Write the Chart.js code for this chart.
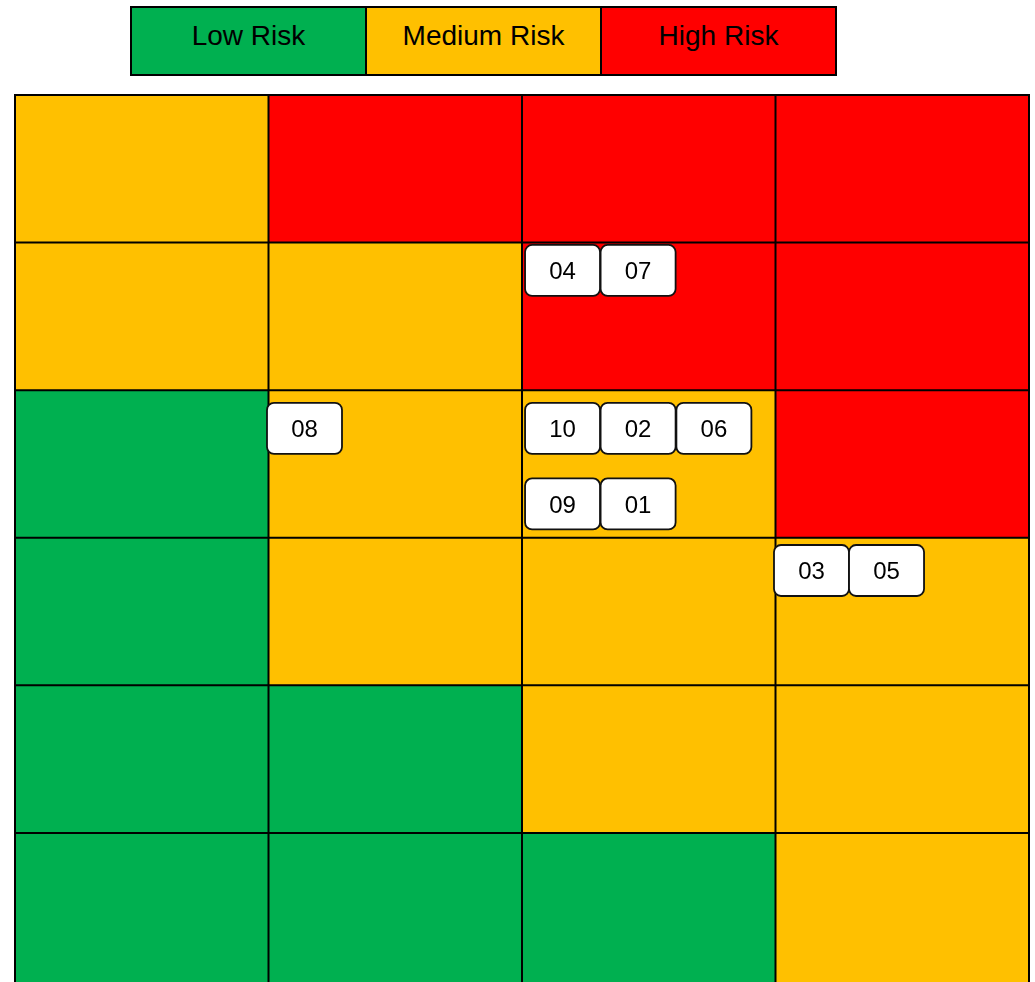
<!DOCTYPE html>
<html>
<head>
<meta charset="utf-8">
<script src="https://cdn.jsdelivr.net/npm/chart.js@4"></script>
<style>
  body { margin: 0; background: #fff; font-family: "Liberation Sans", Arial, sans-serif; }
  #wrap { position: relative; width: 1035px; height: 982px; overflow: hidden; }
  #inner { position: absolute; left: 0; top: 0; width: 1035px; height: 1010px; }
  #legend { position: absolute; left: 130px; top: 6px; display: flex; z-index: 2; }
  #legend div {
    width: 233px; height: 55px; border: 2px solid #000; margin-left: -2px;
    display: flex; align-items: center; justify-content: center;
    font-size: 28px; color: #000; padding-bottom: 11px;
  }
  #legend div:first-child { margin-left: 0; }
</style>
</head>
<body>
<div id="wrap">
  <div id="legend"></div>
  <div id="inner"><canvas id="matrix"></canvas></div>
</div>
<script>
// Risk levels (legend)
const riskLabels = ['Low Risk', 'Medium Risk', 'High Risk'];
const riskColors = ['#00B050', '#FFC000', '#FF0000'];

// Matrix cells, top row first, 0 = low, 1 = medium, 2 = high
const riskRows = [
  [1, 2, 2, 2],
  [1, 1, 2, 2],
  [0, 1, 1, 2],
  [0, 1, 1, 1],
  [0, 0, 1, 1],
  [0, 0, 0, 1]
];

// Risk items
const itemIds = ['04', '07', '10', '02', '06', '09', '01', '08', '03', '05'];
const itemX = [2.16, 2.458, 2.16, 2.458, 2.757, 2.16, 2.458, 1.142, 3.142, 3.438];
const itemY = [4.811, 4.811, 3.741, 3.741, 3.741, 3.229, 3.229, 3.741, 2.778, 2.778];

const colCount = riskRows[0].length;
const rowCount = riskRows.length;

// Legend
const legendEl = document.getElementById('legend');
riskLabels.forEach((label, i) => {
  const box = document.createElement('div');
  box.style.background = riskColors[i];
  box.textContent = label;
  legendEl.appendChild(box);
});

// Draw the coloured cells and the grid lines
// (bottom row runs past the page edge, so it goes down to the scale min)
const cellsPlugin = {
  id: 'cells',
  beforeDatasetsDraw(chart) {
    const { ctx, scales: { x, y } } = chart;
    const yBottom = y.min;
    ctx.save();
    riskRows.forEach((row, r) => {
      row.forEach((level, c) => {
        const left = x.getPixelForValue(c);
        const right = x.getPixelForValue(c + 1);
        const top = y.getPixelForValue(rowCount - r);
        const bottom = y.getPixelForValue(r === rowCount - 1 ? yBottom : rowCount - r - 1);
        ctx.fillStyle = riskColors[level];
        ctx.fillRect(left, top, right - left, bottom - top);
      });
    });
    ctx.strokeStyle = '#000';
    ctx.lineWidth = 2;
    ctx.beginPath();
    for (let c = 0; c <= colCount; c++) {
      const px = x.getPixelForValue(c);
      ctx.moveTo(px, y.getPixelForValue(rowCount));
      ctx.lineTo(px, y.getPixelForValue(yBottom));
    }
    for (let r = 1; r <= rowCount; r++) {
      const py = y.getPixelForValue(r);
      ctx.moveTo(x.getPixelForValue(0) - 1, py);
      ctx.lineTo(x.getPixelForValue(colCount) + 1, py);
    }
    ctx.stroke();
    ctx.restore();
  }
};

// Rounded white label boxes at each point
const tagsPlugin = {
  id: 'tags',
  afterDatasetsDraw(chart) {
    const { ctx } = chart;
    const meta = chart.getDatasetMeta(0);
    const w = 75, h = 51, rad = 7;
    ctx.save();
    meta.data.forEach((pt, i) => {
      const left = pt.x - w / 2;
      const top = pt.y - h / 2;
      ctx.beginPath();
      ctx.roundRect(left, top, w, h, rad);
      ctx.fillStyle = '#fff';
      ctx.fill();
      ctx.lineWidth = 1.8;
      ctx.strokeStyle = '#111';
      ctx.stroke();
      ctx.fillStyle = '#000';
      ctx.font = '24px "Liberation Sans", Arial, sans-serif';
      ctx.textAlign = 'center';
      ctx.textBaseline = 'middle';
      ctx.fillText(itemIds[i], pt.x, pt.y + 2);
    });
    ctx.restore();
  }
};

new Chart(document.getElementById('matrix'), {
  type: 'scatter',
  data: {
    datasets: [{
      label: 'Risks',
      data: itemIds.map((id, i) => ({ x: itemX[i], y: itemY[i] })),
      pointRadius: 0,
      pointHoverRadius: 0
    }]
  },
  options: {
    responsive: true,
    maintainAspectRatio: false,
    animation: false,
    layout: { padding: { left: 15, top: 95, right: 6, bottom: 0 } },
    scales: {
      x: { type: 'linear', min: 0, max: colCount, display: false },
      y: { type: 'linear', min: -0.2, max: rowCount, display: false }
    },
    plugins: {
      legend: { display: false },
      tooltip: { enabled: false }
    }
  },
  plugins: [cellsPlugin, tagsPlugin]
});
</script>
</body>
</html>
